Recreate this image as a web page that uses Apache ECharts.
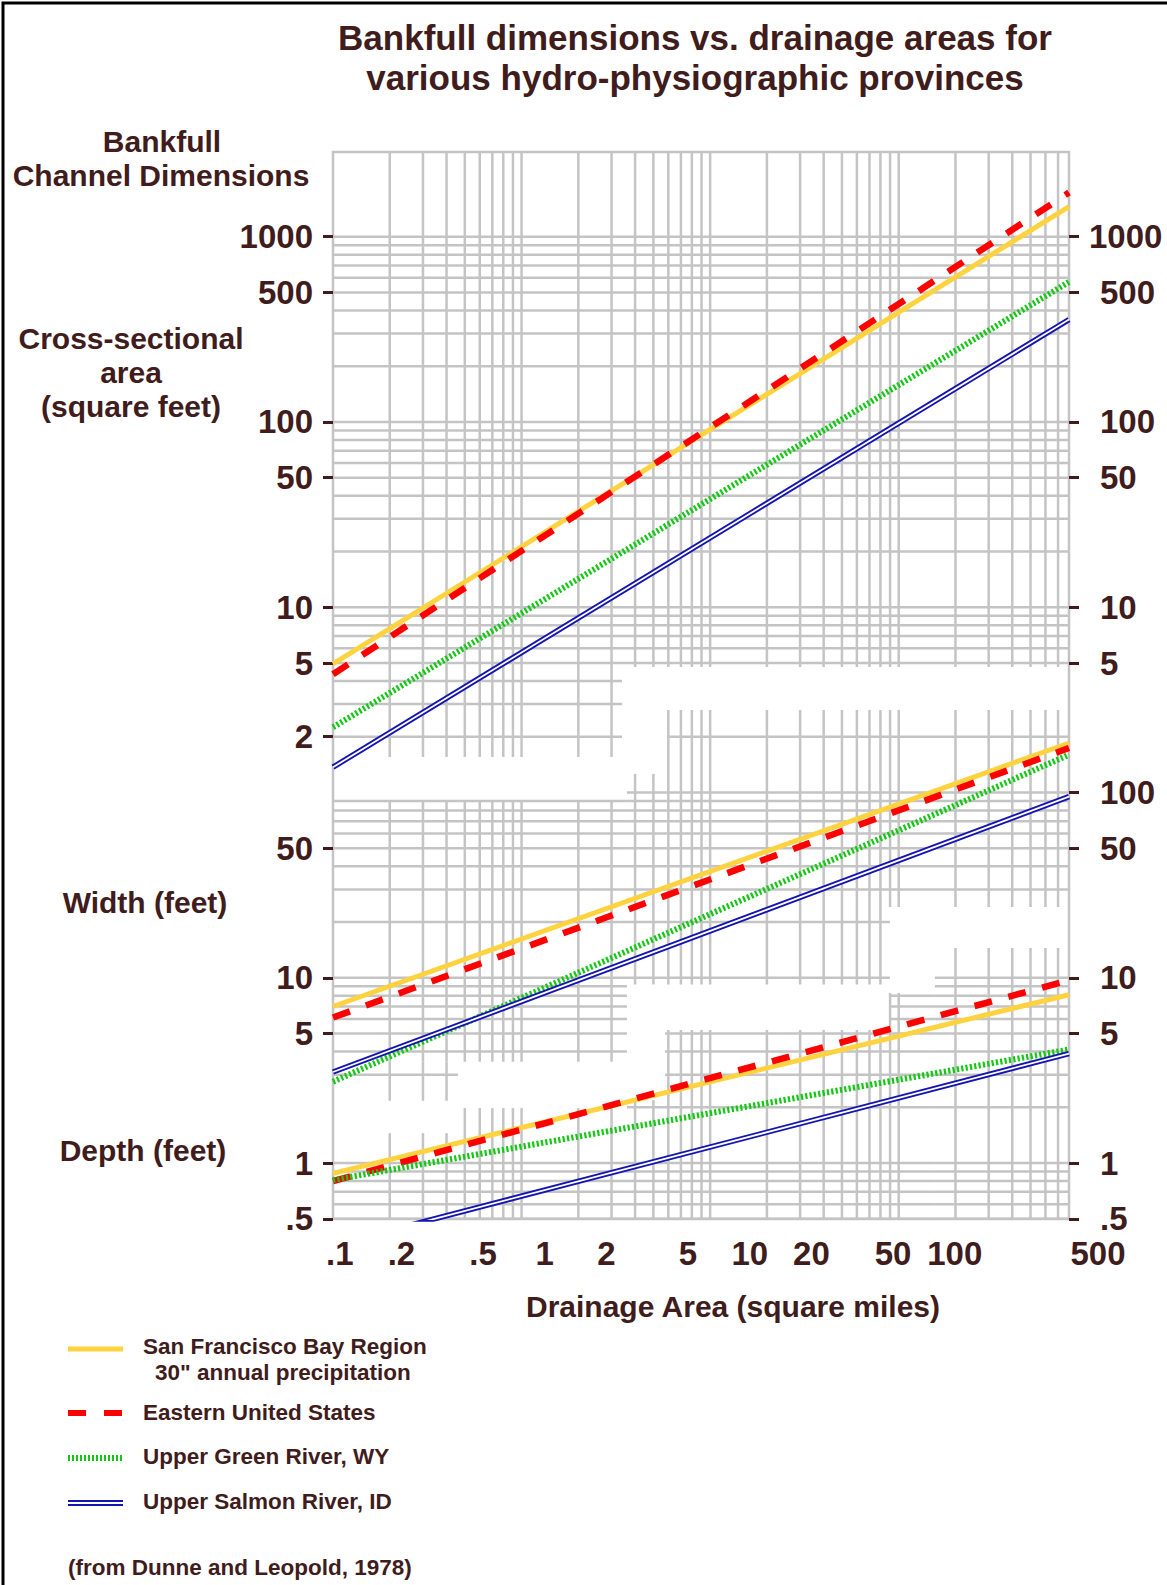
<!DOCTYPE html>
<html lang="en">
<head>
    <meta charset="UTF-8">
    <title>Bankfull dimensions vs. drainage areas</title>
    <script src="https://cdn.jsdelivr.net/npm/echarts@6.0.0/dist/echarts.min.js"></script>
    <style>
        html, body { margin: 0; padding: 0; background: #fff; }
        #chart { width: 1167px; height: 1585px; }
    </style>
</head>
<body>
<div id="chart"></div>
<script>
// drainage area (square miles) at both ends of every line
const drainage = [0.1, 800];

// cross-sectional area (square feet)
const areaSF = [4.95, 1455];
const areaEast = [4.35, 1730];
const areaGreen = [2.25, 570];
const areaSalmon = [1.37, 357];

// width (feet)
const widthSF = [7.0, 185];
const widthEast = [6.1, 174];
const widthGreen = [2.75, 160];
const widthSalmon = [3.1, 95];

// depth (feet)
const depthSF = [0.88, 8.1];
const depthEast = [0.8, 9.7];
const depthGreen = [0.81, 4.1];
const depthSalmon = [0.36, 3.9];

// tick labels
const xTicks = [0.1, 0.2, 0.5, 1, 2, 5, 10, 20, 50, 100, 500];
const areaTicksLeft = [1000, 500, 100, 50, 10, 5, 2];
const areaTicksRightWide = [1000];
const areaTicksRight = [500, 100, 50, 10, 5];
const lowerTicksLeft = [50, 10, 5, 1, 0.5];
const lowerTicksRight = [100, 50, 10, 5, 1, 0.5];

// graph paper patches of each panel: [x from, x to, y from, y to]
const areaBlocks = [
    [0.1, 800, 4.76, 2865],
    [0.1, 3.41, 1.556, 4.76]
];
const widthBlocks = [
    [5.9, 89.8, 9.2, 279],
    [89.8, 800, 24.1, 279],
    [3.62, 5.9, 9.2, 126],
    [0.1, 3.62, 3.52, 91.2],
    [0.1, 0.46, 2.17, 3.52]
];
const depthBlocks = [
    [155.6, 800, 0.499, 14.5],
    [89.8, 155.6, 0.499, 8.29],
    [5.76, 89.8, 0.499, 5.23],
    [3.62, 5.76, 0.499, 2.19],
    [0.46, 3.62, 0.499, 1.98],
    [0.1, 0.46, 0.499, 1.45]
];

const ink = '#401c1c';
const gridColor = '#c4c4c4';
const family = '"Liberation Sans", Arial, sans-serif';

const styles = {
    sf: { color: '#ffd340', width: 5 },
    east: { color: '#ff0000', width: 6.5, type: [18, 17] },
    green: { color: '#12c812', width: 6, type: [2.2, 2.2] },
    salmon: { color: '#1414b0', width: 5.5 },
    salmonGap: { color: '#ffffff', width: 1.8 }
};

const chart = echarts.init(document.getElementById('chart'), null, { renderer: 'svg' });

// 1..9 x 10^n steps for the log paper
const gridSteps = [];
for (let e = -3; e <= 6; e++) {
    for (let k = 1; k <= 9; k++) gridSteps.push(+(k * Math.pow(10, e)).toPrecision(6));
}

function gridRenderer(yCap) {
    return function (params, api) {
        const x0 = api.value(0), x1 = api.value(1), y0 = api.value(2), y1 = api.value(3);
        const lines = [];
        const add = (p, q) => lines.push({
            type: 'line',
            shape: { x1: p[0], y1: p[1], x2: q[0], y2: q[1] },
            style: { stroke: gridColor, lineWidth: 2.5 }
        });
        gridSteps.forEach(v => {
            if (v > x0 && v < x1) add(api.coord([v, y0]), api.coord([v, y1]));
            if (v >= y0 && v <= y1 && v <= yCap) add(api.coord([x0, v]), api.coord([x1, v]));
        });
        return { type: 'group', children: lines };
    };
}

function paper(blocks, yIdx, yCap) {
    return {
        type: 'custom', xAxisIndex: 0, yAxisIndex: yIdx, data: blocks,
        encode: { x: [0, 1], y: [2, 3] },
        renderItem: gridRenderer(yCap), silent: true, z: 1
    };
}

function curve(values, yIdx, style, z) {
    return {
        type: 'line', xAxisIndex: 0, yAxisIndex: yIdx,
        data: drainage.map((d, i) => [d, values[i]]),
        symbol: 'none', lineStyle: style, z: z, silent: true
    };
}

const tickText = v => (v < 1 ? String(+v.toPrecision(6)).replace(/^0/, '') : String(Math.round(v)));

function yAxis(pos, min, max, ticks, margin, padding) {
    return {
        gridIndex: 0, type: 'log', position: pos, min: min, max: max,
        axisLine: { show: false },
        splitLine: { show: false },
        axisTick: { show: true, customValues: ticks, length: 10, lineStyle: { color: ink, width: 3 } },
        axisLabel: {
            customValues: ticks, formatter: tickText, margin: margin, padding: padding || 0,
            color: ink, fontSize: 33, lineHeight: 30, fontWeight: 'bold', fontFamily: family
        }
    };
}

// free text: [text, x, y, size, align]
const labels = [
    ['Bankfull dimensions vs. drainage areas for', 695, 37, 35, 'center'],
    ['various hydro-physiographic provinces', 695, 77, 35, 'center'],
    ['Bankfull', 162, 141, 30, 'center'],
    ['Channel Dimensions', 161, 175, 30, 'center'],
    ['Cross-sectional', 131, 338, 30, 'center'],
    ['area', 131, 372, 30, 'center'],
    ['(square feet)', 131, 406, 30, 'center'],
    ['Width (feet)', 145, 902, 30, 'center'],
    ['Depth (feet)', 143, 1150, 30, 'center'],
    ['Drainage Area (square miles)', 733, 1306, 30, 'center'],
    ['San Francisco Bay Region', 143, 1346, 22.5, 'left'],
    ['30" annual precipitation', 155, 1372, 22.5, 'left'],
    ['Eastern United States', 143, 1412, 22.5, 'left'],
    ['Upper Green River, WY', 143, 1456, 22.5, 'left'],
    ['Upper Salmon River, ID', 143, 1501, 22.5, 'left'],
    ['(from Dunne and Leopold, 1978)', 68, 1567, 22.5, 'left']
];

const graphic = labels.map(([t, x, y, s, a]) => ({
    type: 'text', x: x, y: y,
    style: { text: t, fill: ink, font: 'bold ' + s + 'px ' + family, align: a, textAlign: a, verticalAlign: 'middle', textVerticalAlign: 'middle' }
}));

// legend swatches
const swatch = (y, st) => ({
    type: 'line', shape: { x1: 68, y1: y, x2: 123, y2: y },
    style: { stroke: st.color, lineWidth: st.width, lineDash: st.dash || null }
});
graphic.push(swatch(1349, { color: styles.sf.color, width: 5 }));
graphic.push(swatch(1413, { color: styles.east.color, width: 6, dash: [18, 18] }));
graphic.push(swatch(1458, { color: styles.green.color, width: 6, dash: [2, 2] }));
graphic.push(swatch(1501, { color: styles.salmon.color, width: 1.8 }));
graphic.push(swatch(1505, { color: styles.salmon.color, width: 1.8 }));

// page frame
graphic.push({
    type: 'polyline', shape: { points: [[3, 1590], [3, 3], [1170, 3]] },
    style: { stroke: '#000', lineWidth: 3, fill: null }
});

chart.setOption({
    animation: false,
    backgroundColor: '#fff',
    grid: [
        { left: 333, width: 736, top: 152, height: 1067, show: true, borderColor: gridColor, borderWidth: 2.5 },
        { left: 333, width: 787, top: 1218, height: 1, show: false }
    ],
    xAxis: [
        {
            gridIndex: 0, type: 'log', min: 0.1, max: 800,
            axisLine: { show: false }, axisTick: { show: false },
            axisLabel: { show: false }, splitLine: { show: false }
        },
        {
            gridIndex: 1, type: 'log', min: 0.0927, max: 640, position: 'bottom',
            axisLine: { show: false }, axisTick: { show: false }, splitLine: { show: false },
            axisLabel: {
                customValues: xTicks, formatter: tickText, margin: 19,
                color: ink, fontSize: 33, lineHeight: 30, fontWeight: 'bold', fontFamily: family
            }
        }
    ],
    yAxis: [
        yAxis('left', 0.00499, 2865, areaTicksLeft, 20),
        yAxis('right', 0.00499, 2865, areaTicksRight, 31),
        yAxis('left', 0.499, 286500, lowerTicksLeft, 20),
        yAxis('right', 0.499, 286500, lowerTicksRight, 31, [0, 0, 4, 0]),
        { gridIndex: 1, type: 'value', show: false },
        yAxis('right', 0.00499, 2865, areaTicksRightWide, 20)
    ],
    graphic: graphic,
    series: [
        paper(areaBlocks, 0, 1000),
        paper(widthBlocks, 2, Infinity),
        paper(depthBlocks, 2, Infinity),

        curve(areaSF, 0, styles.sf, 3),
        curve(areaEast, 0, styles.east, 4),
        curve(areaGreen, 0, styles.green, 5),
        curve(areaSalmon, 0, styles.salmon, 6),
        curve(areaSalmon, 0, styles.salmonGap, 7),

        curve(widthSF, 2, styles.sf, 3),
        curve(widthEast, 2, styles.east, 4),
        curve(widthGreen, 2, styles.green, 5),
        curve(widthSalmon, 2, styles.salmon, 6),
        curve(widthSalmon, 2, styles.salmonGap, 7),

        curve(depthSF, 2, styles.sf, 3),
        curve(depthEast, 2, styles.east, 4),
        curve(depthGreen, 2, styles.green, 5),
        curve(depthSalmon, 2, styles.salmon, 6),
        curve(depthSalmon, 2, styles.salmonGap, 7)
    ]
});

window.onresize = function () {
    chart.resize();
};
</script>
</body>
</html>
